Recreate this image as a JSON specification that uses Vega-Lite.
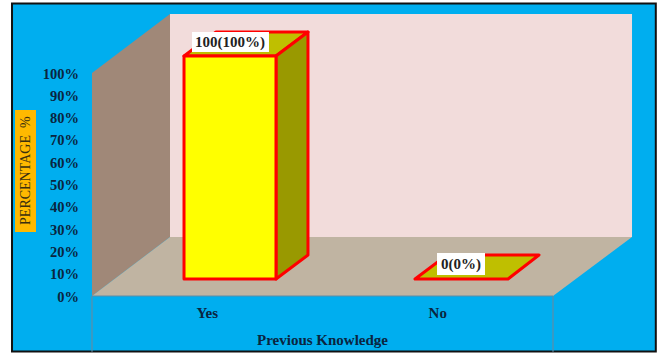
{
  "$schema": "https://vega.github.io/schema/vega-lite/v6.json",
  "width": 662,
  "height": 353,
  "autosize": {"type": "fit", "contains": "padding"},
  "padding": 0,
  "background": "white",
  "config": {"view": {"stroke": null}},
  "datasets": {
    "frame": [{"x": -17.35, "x2": 122.3, "y": 131.2, "y2": -24.9}],
    "shell": [
      {"face": "left wall", "x": 0, "y": 0, "y2": 100},
      {"face": "left wall", "x": 16.92, "y": 26.46, "y2": 126.46},
      {"face": "back wall", "x": 16.92, "y": 26.46, "y2": 126.46},
      {"face": "back wall", "x": 117.14, "y": 26.46, "y2": 126.46}
    ],
    "floor": [
      {"face": "floor", "y": 0, "x": 0, "x2": 100},
      {"face": "floor", "y": 26.46, "x": 16.92, "x2": 117.14}
    ],
    "tops": [
      {"face": "Yes top", "y": 107.62, "x": 19.96, "x2": 39.91},
      {"face": "Yes top", "y": 118.39, "x": 26.9, "x2": 46.85},
      {"face": "No top", "y": 7.62, "x": 70.07, "x2": 90.24},
      {"face": "No top", "y": 18.39, "x": 77, "x2": 96.96}
    ],
    "sides": [
      {"face": "Yes side", "x": 39.91, "y": 7.62, "y2": 107.62},
      {"face": "Yes side", "x": 46.85, "y": 18.39, "y2": 118.39},
      {"face": "Yes front", "x": 19.96, "y": 7.62, "y2": 107.62},
      {"face": "Yes front", "x": 39.91, "y": 7.62, "y2": 107.62}
    ],
    "edges": [
      {"x": 0, "x2": 0, "y": 0, "y2": -25},
      {"x": 100, "x2": 100, "y": 0, "y2": -25},
      {"x": 0, "x2": 100, "y": 0, "y2": 0}
    ],
    "titleBox": [{"x": -16.7, "x2": -12.15, "y": 83.4, "y2": 28.7}],
    "labelBoxes": [
      {"label": "100(100%)", "x": 21.69, "x2": 38.39, "y": 118.39, "y2": 109.42, "tx": 29.93, "ty": 113.9},
      {"label": "0(0%)", "x": 74.84, "x2": 85.25, "y": 19.28, "y2": 9.42, "tx": 80.04, "ty": 14.35}
    ],
    "categories": [
      {"label": "Yes", "x": 25, "y": -7.6},
      {"label": "No", "x": 75, "y": -7.6},
      {"label": "Previous Knowledge", "x": 50, "y": -19.7}
    ],
    "percentLabels": [
      {"label": "0%", "x": -2.8, "y": 0},
      {"label": "10%", "x": -2.8, "y": 10},
      {"label": "20%", "x": -2.8, "y": 20},
      {"label": "30%", "x": -2.8, "y": 30},
      {"label": "40%", "x": -2.8, "y": 40},
      {"label": "50%", "x": -2.8, "y": 50},
      {"label": "60%", "x": -2.8, "y": 60},
      {"label": "70%", "x": -2.8, "y": 70},
      {"label": "80%", "x": -2.8, "y": 80},
      {"label": "90%", "x": -2.8, "y": 90},
      {"label": "100%", "x": -2.8, "y": 100}
    ],
    "yTitle": [{"label": "PERCENTAGE\u00a0\u00a0%", "x": -14.4, "y": 56.2}]
  },
  "resolve": {"scale": {"fill": "shared"}},
  "encoding": {
    "x": {"field": "x", "type": "quantitative", "axis": null, "scale": {"domain": [-19.957, 123.644], "nice": false, "zero": false}},
    "y": {"field": "y", "type": "quantitative", "axis": null, "scale": {"domain": [-25.56, 132.74], "nice": false, "zero": false}}
  },
  "layer": [
    {
      "data": {"name": "frame"},
      "mark": {"type": "rect", "fill": "#00AEEF", "stroke": "#111111", "strokeWidth": 2},
      "encoding": {"x2": {"field": "x2"}, "y2": {"field": "y2"}}
    },
    {
      "data": {"name": "shell"},
      "mark": {"type": "area"},
      "encoding": {
        "y": {"field": "y", "type": "quantitative", "stack": null, "axis": null},
        "y2": {"field": "y2"},
        "fill": {"field": "face", "type": "nominal", "legend": null, "scale": {
          "domain": ["left wall", "back wall", "floor", "Yes top", "No top", "Yes side", "Yes front"],
          "range": ["#A08878", "#F2DCDB", "#C0B4A2", "#BFBF00", "#BFBF00", "#999900", "#FFFF00"]
        }}
      }
    },
    {
      "data": {"name": "floor"},
      "mark": {"type": "area", "orient": "horizontal"},
      "encoding": {
        "x": {"field": "x", "type": "quantitative", "stack": null, "axis": null},
        "x2": {"field": "x2"},
        "fill": {"field": "face", "type": "nominal", "legend": null}
      }
    },
    {
      "data": {"name": "edges"},
      "mark": {"type": "rule", "color": "#5F8CA6", "strokeWidth": 1.2},
      "encoding": {"x2": {"field": "x2"}, "y2": {"field": "y2"}}
    },
    {
      "data": {"name": "tops"},
      "mark": {"type": "area", "orient": "horizontal", "stroke": "#FF0000", "strokeWidth": 3, "strokeJoin": "round"},
      "encoding": {
        "x": {"field": "x", "type": "quantitative", "stack": null, "axis": null},
        "x2": {"field": "x2"},
        "fill": {"field": "face", "type": "nominal", "legend": null}
      }
    },
    {
      "data": {"name": "sides"},
      "mark": {"type": "area", "stroke": "#FF0000", "strokeWidth": 3, "strokeJoin": "round"},
      "encoding": {
        "y": {"field": "y", "type": "quantitative", "stack": null, "axis": null},
        "y2": {"field": "y2"},
        "fill": {"field": "face", "type": "nominal", "legend": null}
      }
    },
    {
      "data": {"name": "titleBox"},
      "mark": {"type": "rect", "fill": "#FFB900"},
      "encoding": {"x2": {"field": "x2"}, "y2": {"field": "y2"}}
    },
    {
      "data": {"name": "yTitle"},
      "mark": {"type": "text", "angle": 270, "font": "Liberation Serif", "fontSize": 14, "color": "#3a3010", "align": "center", "baseline": "middle"},
      "encoding": {"text": {"field": "label"}}
    },
    {
      "data": {"name": "percentLabels"},
      "mark": {"type": "text", "font": "Liberation Serif", "fontWeight": "bold", "fontSize": 14.5, "color": "#0a2540", "align": "right", "baseline": "middle", "dy": 1.5},
      "encoding": {"text": {"field": "label"}}
    },
    {
      "data": {"name": "labelBoxes"},
      "mark": {"type": "rect", "fill": "#FFFFFF"},
      "encoding": {"x2": {"field": "x2"}, "y2": {"field": "y2"}}
    },
    {
      "data": {"name": "labelBoxes"},
      "mark": {"type": "text", "font": "Liberation Serif", "fontWeight": "bold", "fontSize": 15, "color": "#222222", "align": "center", "baseline": "middle"},
      "encoding": {
        "x": {"field": "tx", "type": "quantitative", "axis": null},
        "y": {"field": "ty", "type": "quantitative", "axis": null},
        "text": {"field": "label"}
      }
    },
    {
      "data": {"name": "categories"},
      "mark": {"type": "text", "font": "Liberation Serif", "fontWeight": "bold", "fontSize": 15, "color": "#0a2540", "align": "center", "baseline": "middle"},
      "encoding": {"text": {"field": "label"}}
    }
  ]
}
